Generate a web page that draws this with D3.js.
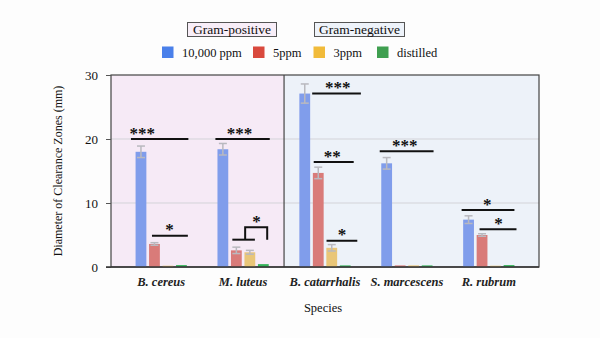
<!DOCTYPE html>
<html>
<head>
<meta charset="utf-8">
<script src="https://cdn.jsdelivr.net/npm/d3@7"></script>
<style>
  body { margin: 0; background: #fdfdfd; }
  svg { display: block; font-family: "Liberation Serif", "DejaVu Serif", serif; }
</style>
</head>
<body>
<svg id="chart"></svg>
<script>
var svgWidth = 600;
var svgHeight = 338;

// data
var species = ["B. cereus", "M. luteus", "B. catarrhalis", "S. marcescens", "R. rubrum"];
var treatments = ["10,000 ppm", "5ppm", "3ppm", "distilled"];
var colors = ["#4a80ea", "#d9493d", "#f1bb3a", "#3f9f50"];
var barColors = ["#809deb", "#d97b79", "#e9c678", "#35b45a"];

var ppm10000 = [18.0, 18.4, 27.1, 16.2, 7.4];
var ppm5 = [3.6, 2.6, 14.7, 0.25, 5.0];
var ppm3 = [0.2, 2.3, 3.0, 0.25, 0.2];
var distilled = [0.3, 0.45, 0.25, 0.25, 0.3];

var err10000 = [0.9, 0.9, 1.5, 0.9, 0.6];
var err5 = [0.2, 0.5, 0.9, 0, 0.2];
var err3 = [0, 0.3, 0.5, 0, 0];
var errDist = [0, 0, 0, 0, 0];

var yTicks = [0, 10, 20, 30];
var groups = ["Gram-positive", "Gram-negative"];

// significance bars: species, y value, start/end as a fraction of the group width, label position
var sigBars = [
  { sp: "B. cereus", y: 20, f0: -0.09, f1: 1.03, fl: 0.13, label: "***" },
  { sp: "B. cereus", y: 4.9, f0: 0.32, f1: 1.02, fl: 0.66, label: "*" },
  { sp: "M. luteus", y: 20, f0: -0.04, f1: 1.02, fl: 0.43, label: "***" },
  { sp: "M. luteus", y: 4.27, f0: 0.29, f1: 0.73, fl: null, label: "" },
  { sp: "B. catarrhalis", y: 27.1, f0: 0.25, f1: 1.2, fl: 0.75, label: "***" },
  { sp: "B. catarrhalis", y: 16.4, f0: 0.28, f1: 1.06, fl: 0.64, label: "**" },
  { sp: "B. catarrhalis", y: 4.1, f0: 0.53, f1: 1.13, fl: 0.83, label: "*" },
  { sp: "S. marcescens", y: 18.1, f0: -0.03, f1: 1.02, fl: 0.46, label: "***" },
  { sp: "R. rubrum", y: 8.9, f0: -0.03, f1: 1.0, fl: 0.47, label: "*" },
  { sp: "R. rubrum", y: 5.9, f0: 0.32, f1: 1.04, fl: 0.69, label: "*" }
];
// bracket on M. luteus: top level and leg level
var bracket = { sp: "M. luteus", top: 6.2, leg: 4.27, f0: 0.54, f1: 0.97, fl: 0.76, label: "*" };

var values = [ppm10000, ppm5, ppm3, distilled];
var errors = [err10000, err5, err3, errDist];

var chartMargin = { top: 75, right: 61, bottom: 71, left: 111 };
var chartWidth = svgWidth - chartMargin.left - chartMargin.right;
var chartHeight = svgHeight - chartMargin.top - chartMargin.bottom;

var svg = d3.select("#chart")
  .attr("width", svgWidth)
  .attr("height", svgHeight);

var g = svg.append("g")
  .attr("transform", `translate(${chartMargin.left}, ${chartMargin.top})`);

var x0 = d3.scaleBand()
  .domain(species)
  .range([0, chartWidth])
  .paddingInner(0.374)
  .paddingOuter(0.3);

var x1 = d3.scaleBand()
  .domain(treatments)
  .range([0, x0.bandwidth()])
  .paddingInner(0.2);

var y = d3.scaleLinear()
  .domain([0, 30])
  .range([chartHeight, 0]);

// shaded panels for the two groups
var splitX = x0("M. luteus") + x0.bandwidth() + (x0("B. catarrhalis") - x0("M. luteus") - x0.bandwidth()) / 2;
g.append("rect")
  .attr("x", 0).attr("y", 0)
  .attr("width", splitX).attr("height", chartHeight)
  .attr("fill", "#f6eaf6");
g.append("rect")
  .attr("x", splitX).attr("y", 0)
  .attr("width", chartWidth - splitX).attr("height", chartHeight)
  .attr("fill", "#edf2f9");

// gridlines
g.append("g")
  .selectAll("line")
  .data(yTicks.filter(function(t) { return t > 0 && t < 30; }))
  .enter()
  .append("line")
    .attr("x1", 0).attr("x2", chartWidth)
    .attr("y1", function(d) { return y(d); })
    .attr("y2", function(d) { return y(d); })
    .attr("stroke", "#d3d3d8")
    .attr("stroke-width", 1);

// panel borders
g.append("rect")
  .attr("x", 0).attr("y", 0)
  .attr("width", chartWidth).attr("height", chartHeight)
  .attr("fill", "none")
  .attr("stroke", "#444")
  .attr("stroke-width", 1.2);
g.append("line")
  .attr("x1", splitX).attr("x2", splitX)
  .attr("y1", 0).attr("y2", chartHeight)
  .attr("stroke", "#444")
  .attr("stroke-width", 1.2);

// bars
var rows = [];
species.forEach(function(sp, i) {
  treatments.forEach(function(t, j) {
    rows.push({ sp: sp, t: t, j: j, v: values[j][i], e: errors[j][i] });
  });
});

var bars = g.append("g")
  .selectAll("g")
  .data(rows)
  .enter()
  .append("g")
  .attr("transform", function(d) { return `translate(${x0(d.sp) + x1(d.t)},0)`; });

bars.append("rect")
  .attr("x", 0)
  .attr("y", function(d) { return y(d.v); })
  .attr("width", x1.bandwidth())
  .attr("height", function(d) { return y(0) - y(d.v); })
  .attr("fill", function(d) { return barColors[d.j]; });

// error bars
var eb = bars.filter(function(d) { return d.e > 0; });
var cx = x1.bandwidth() / 2;
eb.append("line")
  .attr("x1", cx).attr("x2", cx)
  .attr("y1", function(d) { return y(d.v + d.e); })
  .attr("y2", function(d) { return y(d.v - d.e); })
  .attr("stroke", "#b9b9bf")
  .attr("stroke-width", 1.5);
eb.selectAll(".cap")
  .data(function(d) { return [d.v + d.e, d.v - d.e]; })
  .enter()
  .append("line")
    .attr("x1", cx - 4).attr("x2", cx + 4)
    .attr("y1", function(v) { return y(v); })
    .attr("y2", function(v) { return y(v); })
    .attr("stroke", "#b9b9bf")
    .attr("stroke-width", 1.5);

// significance bars
var bw = x0.bandwidth();
var sig = g.append("g");
function star(xp, yp, label) {
  sig.append("text")
    .attr("x", xp)
    .attr("y", yp - 0.5)
    .attr("text-anchor", "middle")
    .attr("font-size", 17)
    .attr("font-weight", "bold")
    .attr("fill", "#111")
    .text(label);
}
sigBars.forEach(function(s) {
  var bx = x0(s.sp);
  sig.append("line")
    .attr("x1", bx + s.f0 * bw).attr("x2", bx + s.f1 * bw)
    .attr("y1", y(s.y)).attr("y2", y(s.y))
    .attr("stroke", "#111")
    .attr("stroke-width", 2);
  if (s.label) star(bx + s.fl * bw, y(s.y), s.label);
});
var bkx = x0(bracket.sp);
sig.append("path")
  .attr("d", d3.line()([
    [bkx + bracket.f0 * bw, y(bracket.leg)],
    [bkx + bracket.f0 * bw, y(bracket.top)],
    [bkx + bracket.f1 * bw, y(bracket.top)],
    [bkx + bracket.f1 * bw, y(bracket.leg)]
  ]))
  .attr("fill", "none")
  .attr("stroke", "#111")
  .attr("stroke-width", 2);
star(bkx + bracket.fl * bw, y(bracket.top), bracket.label);

// axes
var yAxis = g.append("g")
  .call(d3.axisLeft(y).tickValues(yTicks).tickSize(5).tickPadding(8));
yAxis.select(".domain").remove();
yAxis.selectAll("line").attr("stroke", "#555");
yAxis.selectAll("text").attr("font-size", 13).attr("fill", "#111")
  .attr("font-family", "Liberation Serif, serif");

var xAxis = g.append("g")
  .attr("transform", `translate(0, ${chartHeight})`)
  .call(d3.axisBottom(x0).tickSize(0).tickPadding(10));
xAxis.select(".domain").attr("d", `M-5,0H${chartWidth}`).attr("stroke", "#333").attr("stroke-width", 1.5);
xAxis.selectAll("text")
  .attr("font-size", 12.5)
  .attr("font-style", "italic")
  .attr("font-weight", "bold")
  .attr("fill", "#222")
  .attr("font-family", "Liberation Serif, serif");

// axis titles
svg.append("text")
  .attr("transform", `translate(62, ${chartMargin.top + chartHeight / 2}) rotate(-90)`)
  .attr("text-anchor", "middle")
  .attr("font-size", 12)
  .attr("fill", "#111")
  .text("Diameter of Clearance Zones (mm)");

svg.append("text")
  .attr("x", 323)
  .attr("y", 312)
  .attr("text-anchor", "middle")
  .attr("font-size", 12.5)
  .attr("fill", "#111")
  .text("Species");

// group labels
var groupBoxes = [
  { x: 187.5, w: 89, fill: "#f8eef8" },
  { x: 314.5, w: 90, fill: "#eef3fa" }
];
groups.forEach(function(name, i) {
  var b = groupBoxes[i];
  svg.append("rect")
    .attr("x", b.x).attr("y", 22.5)
    .attr("width", b.w).attr("height", 14)
    .attr("fill", b.fill)
    .attr("stroke", "#555")
    .attr("stroke-width", 1);
  svg.append("text")
    .attr("x", b.x + b.w / 2)
    .attr("y", 34)
    .attr("text-anchor", "middle")
    .attr("font-size", 13.5)
    .attr("fill", "#111")
    .text(name);
});

// legend
var legendX = [162, 253, 313.5, 377];
var legend = svg.append("g");
treatments.forEach(function(t, i) {
  legend.append("rect")
    .attr("x", legendX[i]).attr("y", 46.5)
    .attr("width", 11.5).attr("height", 11.5)
    .attr("fill", colors[i]);
  legend.append("text")
    .attr("x", legendX[i] + 20)
    .attr("y", 56.5)
    .attr("font-size", 12.5)
    .attr("fill", "#111")
    .text(t);
});
</script>
</body>
</html>
